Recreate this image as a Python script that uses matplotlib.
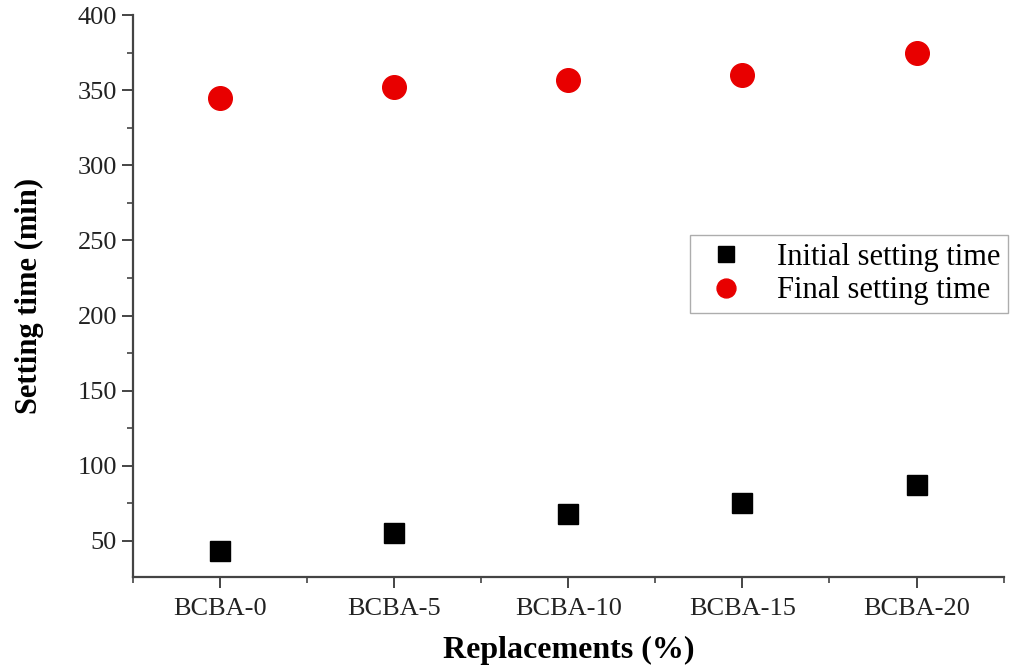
import matplotlib
matplotlib.use("Agg")
import matplotlib.pyplot as plt
from matplotlib.ticker import MultipleLocator

# data
categories = ["BCBA-0", "BCBA-5", "BCBA-10", "BCBA-15", "BCBA-20"]
initial_time = [43, 55, 68, 75, 87]
final_time = [345, 352, 357, 360, 375]

plt.rcParams['font.family'] = ['Liberation Serif', 'DejaVu Serif']

fig = plt.figure(figsize=(10.23, 6.66), dpi=100)
ax = fig.add_axes((0.130, 0.134, 0.851, 0.843))

x = list(range(len(categories)))
ax.plot(x, initial_time, linestyle='none', marker='s', markersize=14,
        color='black', label='Initial setting time')
ax.plot(x, final_time, linestyle='none', marker='o', markersize=17,
        color='#e80000', label='Final setting time')

ax.set_xlim(-0.5, 4.5)
ax.set_ylim(26, 400)
ax.set_xticks(x)
ax.set_xticklabels(categories)
ax.xaxis.set_minor_locator(MultipleLocator(0.5))
ax.yaxis.set_minor_locator(MultipleLocator(25))
ax.set_yticks(range(50, 401, 50))

for side in ('top', 'right'):
    ax.spines[side].set_visible(False)
for side in ('left', 'bottom'):
    ax.spines[side].set_color('#444444')
    ax.spines[side].set_linewidth(1.6)

ax.tick_params(which='major', direction='out', length=8, width=1.4,
               color='#444444', labelsize=19, labelcolor='#222222')
ax.tick_params(which='minor', direction='out', length=4, width=1.2,
               color='#444444')
ax.tick_params(axis='x', which='major', pad=7)

ax.set_xlabel('Replacements (%)', fontsize=23, fontweight='bold', labelpad=12)
ax.set_ylabel('Setting time (min)', fontsize=22, fontweight='bold', labelpad=24)

leg = ax.legend(loc='upper left', bbox_to_anchor=(0.674, 0.647),
                bbox_transform=fig.transFigure, borderaxespad=0,
                fontsize=22, frameon=True, fancybox=False,
                handletextpad=0.7, labelspacing=0.15, borderpad=0.25,
                handlelength=1.9, markerscale=0.8)
leg.get_frame().set_edgecolor('#999999')
leg.get_frame().set_linewidth(1.0)

fig.savefig('out.png', dpi=100)
